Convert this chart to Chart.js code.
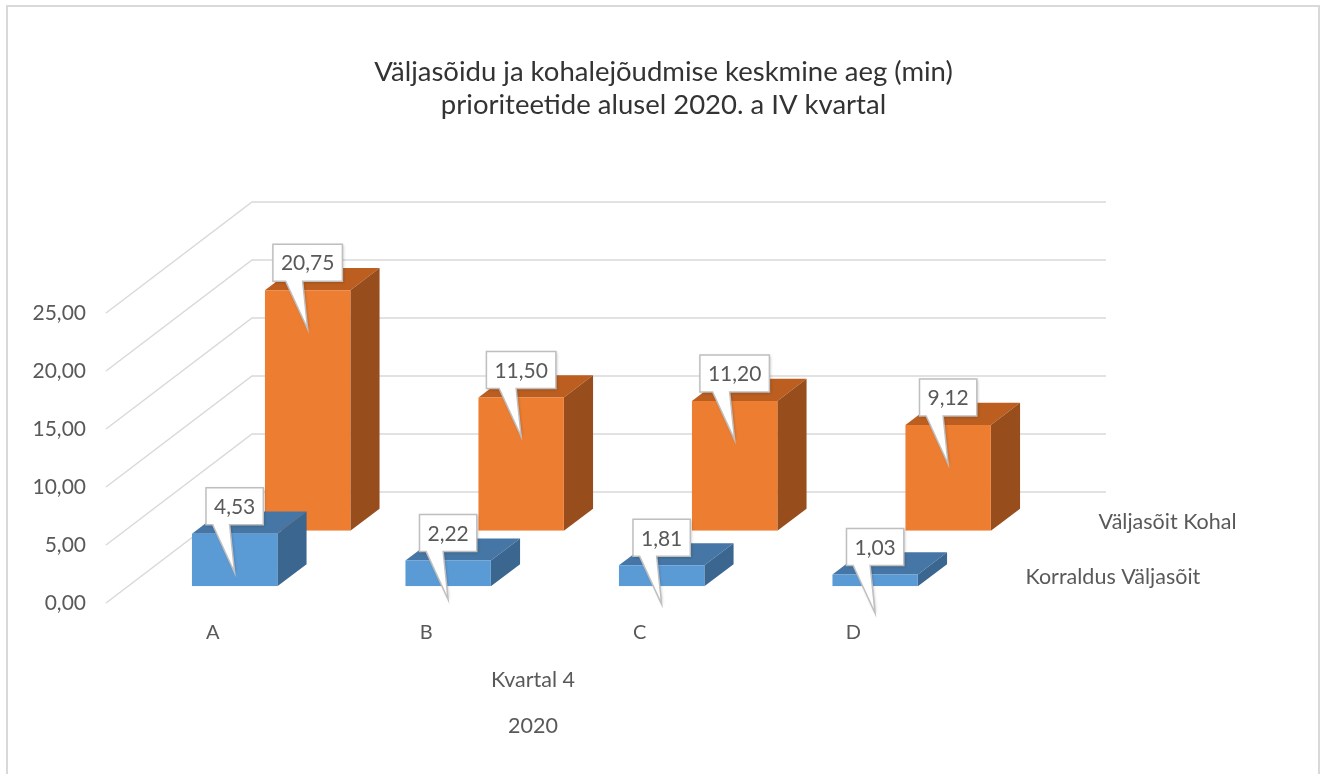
<!DOCTYPE html>
<html lang="et">
<head>
<meta charset="utf-8">
<title>Väljasõidu ja kohalejõudmise keskmine aeg</title>
<script src="https://cdn.jsdelivr.net/npm/chart.js@4.4.1/dist/chart.umd.min.js"></script>
<style>
  html, body { margin: 0; padding: 0; background: #fff; }
  canvas { display: block; }
</style>
</head>
<body>
<canvas id="chart" width="1327" height="774"></canvas>
<script>
// andmed
const categories = ['A', 'B', 'C', 'D'];
const korraldusValjasoit = [4.53, 2.22, 1.81, 1.03];
const valjasoitKohal = [20.75, 11.50, 11.20, 9.12];
const yTicks = [0, 5, 10, 15, 20, 25];
const titleLines = ['Väljasõidu ja kohalejõudmise keskmine aeg (min)', 'prioriteetide alusel 2020. a IV kvartal'];
const axisTitle = ['Kvartal 4', '2020'];

const FONT = 'Lato, "Open Sans", sans-serif';
const GREY = '#595959';

// oblique depth of the floor in px, each series takes half of it
const DEPTH_X = 146, DEPTH_Y = 111;
const SLOT = 0.5, BAR_FRONT = 0.15, BAR_DEPTH = 0.2;

const faces = [
  { front: '#5b9bd5', top: '#4676a5', side: '#3a6690' },
  { front: '#ed7d31', top: '#bb5e20', side: '#984d1c' }
];

const fmt = v => v.toFixed(2).replace('.', ',');

function shift(i, f) {
  const d = i * SLOT + f;
  return { x: d * DEPTH_X, y: -d * DEPTH_Y };
}

const bars3d = {
  id: 'bars3d',
  beforeDraw(chart) {
    const ctx = chart.ctx;
    ctx.save();
    ctx.strokeStyle = '#d9d9d9';
    ctx.lineWidth = 2;
    ctx.strokeRect(7, 6, 1312, 800);
    ctx.restore();
  },
  beforeDatasetsDraw(chart) {
    const { ctx, chartArea, scales: { y } } = chart;
    ctx.save();
    // side wall + back wall grid
    ctx.strokeStyle = '#d9d9d9';
    ctx.lineWidth = 1.5;
    y.ticks.forEach(t => {
      const py = y.getPixelForValue(t.value);
      ctx.beginPath();
      ctx.moveTo(chartArea.left, py);
      ctx.lineTo(chartArea.left + DEPTH_X, py - DEPTH_Y);
      ctx.lineTo(chartArea.right + DEPTH_X, py - DEPTH_Y);
      ctx.stroke();
    });
    // series names on the depth axis
    ctx.fillStyle = GREY;
    ctx.font = '21.5px ' + FONT;
    ctx.textBaseline = 'middle';
    chart.data.datasets.forEach((ds, i) => {
      const s = shift(i, SLOT / 2);
      ctx.fillText(ds.label, chartArea.right + s.x + 29, y.getPixelForValue(0) + s.y + 2);
    });
    ctx.restore();
  },
  beforeDatasetDraw(chart, args) {
    const ctx = chart.ctx;
    const i = args.index;
    const s = shift(i, BAR_FRONT);
    const bx = BAR_DEPTH * DEPTH_X, by = BAR_DEPTH * DEPTH_Y;
    ctx.save();
    ctx.translate(s.x, s.y);
    args.meta.data.forEach(bar => {
      const { x, y, base, width } = bar.getProps(['x', 'y', 'base', 'width'], true);
      const l = x - width / 2, r = x + width / 2;
      ctx.fillStyle = faces[i].top;
      ctx.beginPath();
      ctx.moveTo(l, y); ctx.lineTo(r, y); ctx.lineTo(r + bx, y - by); ctx.lineTo(l + bx, y - by);
      ctx.closePath(); ctx.fill();
      ctx.fillStyle = faces[i].side;
      ctx.beginPath();
      ctx.moveTo(r, y); ctx.lineTo(r + bx, y - by); ctx.lineTo(r + bx, base - by); ctx.lineTo(r, base);
      ctx.closePath(); ctx.fill();
    });
  },
  afterDatasetDraw(chart) {
    chart.ctx.restore();
  },
  afterDatasetsDraw(chart) {
    const ctx = chart.ctx;
    ctx.save();
    ctx.font = '21px ' + FONT;
    ctx.textAlign = 'center';
    ctx.textBaseline = 'middle';
    chart.data.datasets.forEach((ds, i) => {
      const s = shift(i, BAR_FRONT);
      chart.getDatasetMeta(i).data.forEach((bar, j) => {
        const cx = bar.x + s.x, top = bar.y + s.y;
        const text = fmt(ds.data[j]);
        const w = ctx.measureText(text).width + 16;
        const tipY = top + 39, boxB = top - 9, boxT = boxB - 37;
        const bl = cx - w / 2, br = cx + w / 2;
        ctx.beginPath();
        ctx.moveTo(bl, boxT); ctx.lineTo(br, boxT); ctx.lineTo(br, boxB);
        ctx.lineTo(cx - 5, boxB); ctx.lineTo(cx, tipY); ctx.lineTo(cx - 22, boxB);
        ctx.lineTo(bl, boxB); ctx.closePath();
        ctx.shadowColor = 'rgba(0,0,0,0.25)';
        ctx.shadowBlur = 3;
        ctx.shadowOffsetX = 1;
        ctx.shadowOffsetY = 1;
        ctx.fillStyle = '#ffffff';
        ctx.fill();
        ctx.shadowColor = 'transparent';
        ctx.strokeStyle = '#bfbfbf';
        ctx.lineWidth = 1.5;
        ctx.stroke();
        ctx.fillStyle = GREY;
        ctx.fillText(text, cx, (boxT + boxB) / 2 + 1);
      });
    });
    ctx.restore();
  }
};

Chart.defaults.font.family = FONT;
Chart.defaults.color = GREY;

new Chart(document.getElementById('chart'), {
  type: 'bar',
  data: {
    labels: categories,
    datasets: [{
      label: 'Korraldus Väljasõit',
      data: korraldusValjasoit,
      backgroundColor: faces[0].front,
      order: 0
    }, {
      label: 'Väljasõit Kohal',
      data: valjasoitKohal,
      backgroundColor: faces[1].front,
      order: 1
    }]
  },
  options: {
    responsive: false,
    animation: false,
    devicePixelRatio: 1,
    layout: { padding: 0 },
    datasets: {
      bar: { grouped: false, categoryPercentage: 0.4, barPercentage: 1, borderWidth: 0 }
    },
    plugins: {
      legend: { display: false },
      tooltip: { enabled: false },
      title: {
        display: true,
        text: titleLines,
        color: '#333333',
        font: { size: 27.5, weight: 'normal', lineHeight: 33 / 27.5 },
        padding: { top: 56, bottom: 191 }
      }
    },
    scales: {
      x: {
        grid: { display: false, drawTicks: false },
        border: { display: false },
        ticks: { font: { size: 20 }, padding: 18, color: GREY },
        title: {
          display: true,
          text: axisTitle,
          color: GREY,
          font: { size: 21.5, lineHeight: 46 / 21.5 },
          padding: { top: 0, bottom: 25 }
        },
        afterFit(scale) { scale.height = 171; }
      },
      y: {
        min: 0,
        max: 25,
        grid: { display: false, drawTicks: false },
        border: { display: false },
        ticks: { font: { size: 21 }, padding: 20, color: GREY, callback: v => fmt(v) },
        afterBuildTicks(scale) { scale.ticks = yTicks.map(v => ({ value: v })); },
        afterFit(scale) { scale.width = 106; }
      },
      // empty axis that keeps room for the depth labels on the right
      yRight: {
        type: 'linear',
        position: 'right',
        grid: { display: false, drawTicks: false },
        border: { display: false },
        ticks: { display: false },
        afterFit(scale) { scale.width = 367; }
      }
    }
  },
  plugins: [bars3d]
});
</script>
</body>
</html>
